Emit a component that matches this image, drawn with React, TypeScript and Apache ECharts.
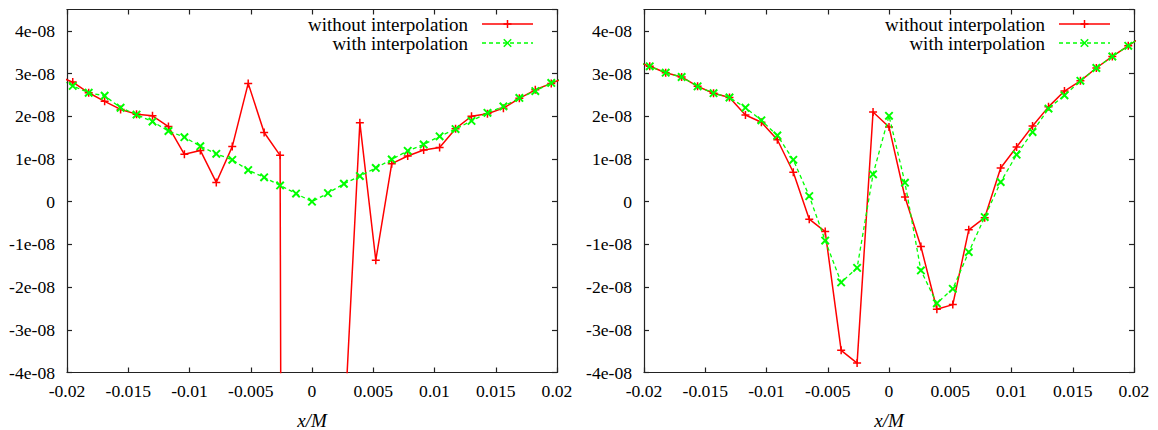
import React, { useEffect, useRef } from "react";
import * as echarts from "echarts";

// x/M sample positions (k/768, k = -16..16; the outermost are clipped by the frame)
const xPositions = [
  -0.020833, -0.019531, -0.018229, -0.016927, -0.015625, -0.014323, -0.013021, -0.011719,
  -0.010417, -0.009115, -0.007813, -0.00651, -0.005208, -0.003906, -0.002604, -0.001302,
  0,
  0.001302, 0.002604, 0.003906, 0.005208, 0.00651, 0.007813, 0.009115, 0.010417,
  0.011719, 0.013021, 0.014323, 0.015625, 0.016927, 0.018229, 0.019531, 0.020833,
];

// values in units of 1e-08
const leftWithout = [
  2.95, 2.8, 2.55, 2.35, 2.16, 2.05, 2.01, 1.76, 1.11, 1.2, 0.45, 1.29, 2.77, 1.62, 1.085, -135,
  -130,
  -120, -5.5, 1.85, -1.37, 0.89, 1.07, 1.21, 1.27, 1.71, 2.0, 2.06, 2.19, 2.42, 2.62, 2.77, 2.93,
];
const leftWith = [
  2.9, 2.71, 2.55, 2.48, 2.2, 2.04, 1.875, 1.655, 1.51, 1.3, 1.12, 0.98, 0.74, 0.57, 0.38, 0.19,
  0,
  0.2, 0.42, 0.6, 0.79, 0.99, 1.19, 1.34, 1.53, 1.7, 1.89, 2.08, 2.23, 2.43, 2.59, 2.78, 2.93,
];
const rightWithout = [
  3.3, 3.17, 3.02, 2.92, 2.7, 2.54, 2.44, 2.03, 1.86, 1.45, 0.69, -0.41, -0.7, -3.48, -3.78, 2.1,
  1.75,
  0.11, -1.05, -2.52, -2.41, -0.66, -0.375, 0.79, 1.28, 1.77, 2.22, 2.59, 2.83, 3.13, 3.4, 3.65, 3.9,
];
const rightWith = [
  3.3, 3.17, 3.02, 2.92, 2.7, 2.54, 2.44, 2.2, 1.905, 1.55, 0.98, 0.13, -0.91, -1.89, -1.55, 0.64,
  2.01,
  0.445, -1.61, -2.38, -2.04, -1.18, -0.36, 0.46, 1.1, 1.63, 2.18, 2.49, 2.83, 3.13, 3.4, 3.65, 3.9,
];

const seriesNames = ["without interpolation", "with interpolation"];
const xAxisTitle = "x/M";

const FONT = "Liberation Serif";
const RED = "#ff0000";
const GREEN = "#00ff00";
const AXIS = "#222";
const PLUS =
  "path://M-0.75,-4H0.75V-0.75H4V0.75H0.75V4H-0.75V0.75H-4V-0.75H-0.75Z";

const pairs = (ys: number[]) => xPositions.map((x, i) => [x, ys[i]]);

const fmtX = (v: number) => (Math.abs(v) < 1e-12 ? "0" : String(parseFloat(v.toFixed(3))));
const fmtY = (v: number) => {
  const n = Math.round(v);
  if (Math.abs(v - n) > 1e-6 || n > 4) return "";
  return n === 0 ? "0" : n + "e-08";
};

export default function App() {
  const ref = useRef<HTMLDivElement>(null);
  useEffect(() => {
    if (!ref.current) return;
    const chart = echarts.init(ref.current, undefined, { renderer: "svg" });
    const grids = [
      { left: 67, top: 9.5, width: 490, height: 363 },
      { left: 644, top: 9.5, width: 490, height: 363 },
    ];
    const axisLine = { show: true, onZero: false, lineStyle: { color: AXIS, width: 1.2 } };
    const axisTick = { show: true, inside: true, length: 5, lineStyle: { color: AXIS, width: 1.2 } };
    const xAxes: any[] = [];
    const yAxes: any[] = [];
    grids.forEach((_, gi) => {
      ["bottom", "top"].forEach((pos) => {
        xAxes.push({
          type: "value",
          gridIndex: gi,
          position: pos,
          min: -0.02,
          max: 0.02,
          interval: 0.005,
          axisLine,
          axisTick,
          splitLine: { show: false },
          axisLabel: {
            show: pos === "bottom",
            margin: 9,
            formatter: fmtX,
            fontFamily: FONT,
            fontSize: 17.6,
            color: "#000",
          },
        });
      });
      ["left", "right"].forEach((pos) => {
        yAxes.push({
          type: "value",
          gridIndex: gi,
          position: pos,
          min: -4,
          max: 4.5,
          interval: 1,
          axisLine,
          axisTick,
          splitLine: { show: false },
          axisLabel: {
            show: pos === "left",
            margin: 12,
            formatter: fmtY,
            fontFamily: FONT,
            fontSize: 17.6,
            color: "#000",
            showMaxLabel: false,
          },
        });
      });
    });

    const mkSeries = (gi: number, ys: number[], which: number) => ({
      type: "line",
      name: seriesNames[which],
      xAxisIndex: gi * 2,
      yAxisIndex: gi * 2,
      data: pairs(ys),
      clip: true,
      symbol: PLUS,
      symbolSize: which === 0 ? 8 : 10.5,
      symbolRotate: which === 0 ? 0 : 45,
      showSymbol: true,
      itemStyle: { color: which === 0 ? RED : GREEN },
      lineStyle: {
        color: which === 0 ? RED : GREEN,
        width: which === 0 ? 1.5 : 1.3,
        type: which === 0 ? "solid" : [4, 3],
      },
      emphasis: { disabled: true },
      z: which === 0 ? 2 : 3,
    });

    const legend = (right: number) => {
      const textRight = right - 89;
      const x1 = right - 75;
      const x2 = right - 24;
      const cx = (x1 + x2) / 2;
      const rows = [24, 43];
      const els: any[] = [];
      rows.forEach((y, i) => {
        els.push({
          type: "text",
          x: textRight,
          y,
          style: {
            text: seriesNames[i],
            align: "right",
            verticalAlign: "middle",
            fontFamily: FONT,
            fontSize: 19,
            fill: "#000",
          },
        });
        els.push({
          type: "line",
          shape: { x1, y1: y, x2, y2: y },
          style: {
            stroke: i === 0 ? RED : GREEN,
            lineWidth: i === 0 ? 1.5 : 1.3,
            lineDash: i === 0 ? null : [4, 3],
          },
        });
        const d = i === 0 ? 4 : 3.7;
        const segs =
          i === 0
            ? [[cx - d, y, cx + d, y], [cx, y - d, cx, y + d]]
            : [[cx - d, y - d, cx + d, y + d], [cx - d, y + d, cx + d, y - d]];
        segs.forEach((s) =>
          els.push({
            type: "line",
            shape: { x1: s[0], y1: s[1], x2: s[2], y2: s[3] },
            style: { stroke: i === 0 ? RED : GREEN, lineWidth: 1.5 },
          })
        );
      });
      return els;
    };

    const titles = [67 + 245, 644 + 245].map((cx) => ({
      type: "text",
      x: cx,
      y: 420,
      style: {
        text: xAxisTitle,
        align: "center",
        verticalAlign: "middle",
        fontFamily: FONT,
        fontStyle: "italic",
        fontSize: 19,
        fill: "#000",
      },
    }));

    chart.setOption({
      animation: false,
      backgroundColor: "#fff",
      grid: grids,
      xAxis: xAxes,
      yAxis: yAxes,
      series: [
        mkSeries(0, leftWithout, 0),
        mkSeries(0, leftWith, 1),
        mkSeries(1, rightWithout, 0),
        mkSeries(1, rightWith, 1),
      ],
      graphic: [...legend(557), ...legend(1134), ...titles],
    });
    return () => chart.dispose();
  }, []);
  return (
    <div
      ref={ref}
      style={{ position: "absolute", left: 0, top: 0, width: 1158, height: 430 }}
    />
  );
}
